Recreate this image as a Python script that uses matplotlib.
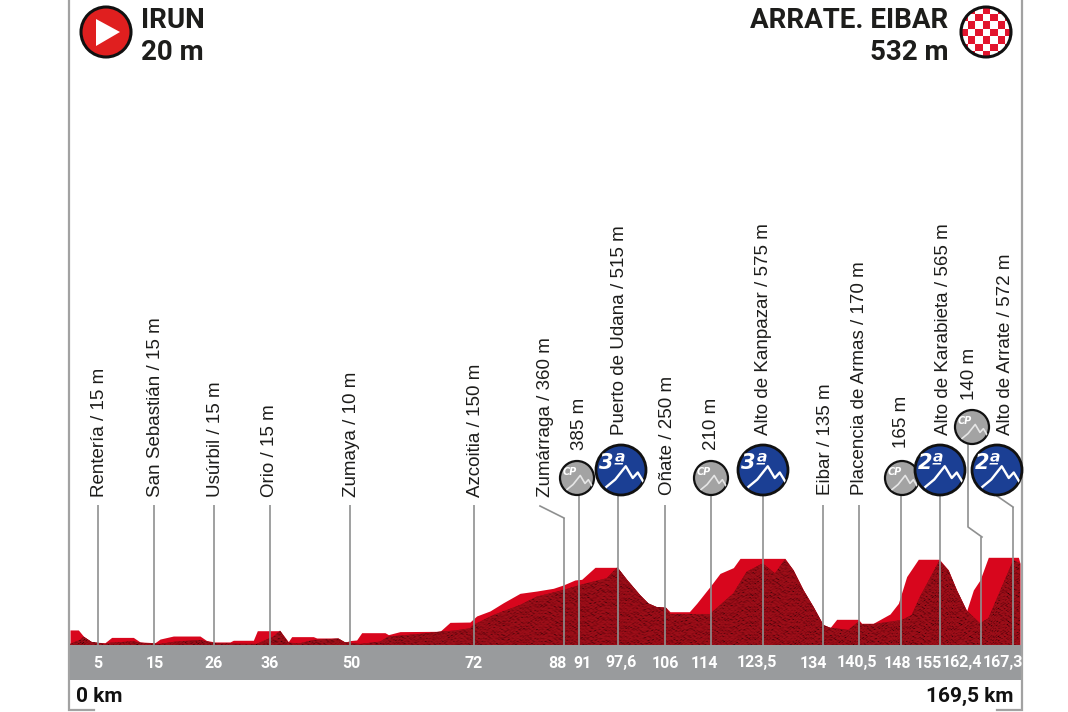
import matplotlib
matplotlib.use('Agg')
import matplotlib.pyplot as plt
import numpy as np
from matplotlib.colors import LinearSegmentedColormap
from matplotlib.patches import Circle, Polygon
from matplotlib.transforms import blended_transform_factory

# bright upper outline of the stage profile
outline_km = [0, 1.49, 2.38, 3.87, 6.24, 7.43, 11.3, 12.49, 15.17, 16.06, 18.44, 23.19, 24.38, 25.87, 28.55, 29.14,
              32.71, 33.42, 37.47, 38.95, 39.55, 43.41, 44.01, 47.87, 49.06, 49.96, 51.14, 52.04, 56.2, 56.8, 58.88,
              66.01, 67.8, 71.36, 72.55, 74.93, 77.31, 80.29, 83.26, 86.23, 88.02, 90.1, 91.29, 93.67, 97.65, 99.32,
              101.7, 103.18, 104.67, 106.33, 107.05, 110.5, 111.81, 114.18, 115.97, 118.35, 119.54, 127.56, 129.05,
              130.84, 132.62, 134.4, 135.6, 136.78, 140.65, 141.24, 143.32, 146.3, 147.79, 149.27, 151.35, 155.1,
              156.71, 158.19, 159.98, 161.17, 162.36, 163.84, 169.2, 169.5]
outline_m = [99, 99, 59, 20, 15, 50, 50, 20, 15, 39, 59, 59, 29, 20, 20, 31,
             31, 94, 94, 22, 55, 55, 46, 46, 18, 29, 33, 81, 81, 68, 88,
             90, 149, 151, 191, 224, 278, 340, 355, 373, 395, 428, 432, 511, 511, 432,
             329, 274, 250, 246, 219, 219, 274, 384, 471, 509, 570, 570, 493,
             362, 252, 132, 114, 169, 169, 143, 143, 204, 274, 450, 564, 564,
             493, 362, 226, 362, 428, 577, 577, 537]

# darker front face, its top edge
face_km = [0, 1.78, 2.38, 3.87, 6.24, 7.14, 11.3, 12.49, 16.06, 18.73, 23.19, 24.38, 25.87, 33.3, 36.28, 37.47, 38.95,
           41.03, 43.41, 47.87, 49.06, 51.74, 55.31, 56.8, 63.63, 66.01, 68.39, 71.36, 71.96, 75.53, 80.29, 83.26,
           88.02, 90.99, 95.75, 97.65, 99.32, 101.7, 103.18, 104.67, 106.33, 107.05, 114.18, 118.35, 120.73, 123.58,
           125.78, 127.56, 129.05, 130.84, 132.62, 134.4, 135.6, 138.86, 140.65, 141.24, 143.32, 148.38, 150.16,
           151.65, 155.1, 156.71, 158.19, 159.98, 162.36, 163.84, 168.3, 169.5]
face_m = [7, 33, 55, 20, 7, 15, 24, 15, 7, 22, 33, 24, 11, 7, 55, 94, 15,
          11, 33, 42, 18, 7, 22, 55, 77, 88, 94, 110, 132, 197, 263, 318,
          362, 395, 439, 511, 432, 329, 274, 250, 246, 204, 204, 340, 482, 537,
          471, 564, 493, 362, 252, 132, 114, 99, 153, 136, 138, 164, 197,
          318, 555, 493, 362, 226, 143, 175, 559, 537]

# km marks on the grey band and where their lines stand
band_labels = ['5', '15', '26', '36', '50', '72', '88', '91', '97,6', '106', '114', '123,5', '134', '140,5', '148',
               '155', '162,4', '167,3']
band_label_x = [98, 155, 214, 270, 351, 474, 557, 583, 621, 665, 704, 757, 813, 857, 897, 928, 962, 1003]
line_km = [5, 15, 25.7, 35.7, 50, 72.1, 88.1, 90.8, 97.7, 106.1, 114.3, 123.6, 134.3, 140.7, 148.2, 155.2, 162.6, 168.3]
line_top = [505, 505, 505, 505, 505, 505, 518, 490, 490, 505, 490, 490, 505, 505, 490, 490, 537, 507]

places = ['Rentería / 15 m', 'San Sebastián / 15 m', 'Usúrbil / 15 m', 'Orio / 15 m', 'Zumaya / 10 m',
          'Azcoitia / 150 m', 'Zumárraga / 360 m', '385 m', 'Puerto de Udana / 515 m', 'Oñate / 250 m', '210 m',
          'Alto de Kanpazar / 575 m', 'Eibar / 135 m', 'Placencia de Armas / 170 m', '165 m',
          'Alto de Karabieta / 565 m', '140 m', 'Alto de Arrate / 572 m']
place_x = [99, 155, 215, 270, 351, 475, 545, 579, 620, 667, 711, 764, 825, 860, 902, 943, 970, 1006]
place_bottom = [497, 497, 497, 497, 497, 497, 497, 450, 435, 495, 450, 435, 495, 495, 448, 435, 400, 435]

sprints = [(577, 478), (711, 478), (902, 478), (972, 427)]
climbs = [(621, 470, '3ª'), (763, 470, '3ª'), (940, 470, '2ª'), (997, 470, '2ª')]
peak_x = [-.58, -.23, .19, .47, .67, .92]
peak_y = [.67, .38, -.15, .32, .10, .51]

grey = '#8f9090'

fig = plt.figure(figsize=(10.68, 7.12), dpi=100)

# km / metres axes, base of the profile sits at pixel y=645
ax = fig.add_axes([0, 0, 1, 1])
ax.set_xlim(-70 / 5.605, (1068 - 70) / 5.605)
ax.set_ylim(-67 / 0.152, 645 / 0.152)
ax.axis('off')

ax.fill_between(outline_km, 0, outline_m, color='#d8061d', lw=0, zorder=2)
face = Polygon(list(zip(face_km, face_m)) + [(169.5, 0), (0, 0)], closed=True, fc='#8e0a14', ec='none', zorder=3)
ax.add_patch(face)

# mottled rock texture, no data in it
xx, yy = np.meshgrid(np.linspace(0, 1, 950), np.linspace(0, 1, 90))
tex = np.sin(xx * 900 + 5 * np.sin(yy * 60) + 3 * np.sin(xx * 130)) * np.sin(yy * 420 + 6 * np.sin(xx * 210))
tex += 0.7 * np.sin(xx * 1370 + yy * 510) * np.sin(xx * 330 - yy * 730)
rock = LinearSegmentedColormap.from_list('rock', ['#200305', '#6e0710', '#8e0a14', '#9a0e18', '#a00f1a', '#a00f1a'])
im = ax.imshow(tex, extent=(0, 169.5, 0, 590), origin='lower', aspect='auto', cmap=rock, zorder=4,
               interpolation='bilinear')
im.set_clip_path(face)
ax.set_xlim(-70 / 5.605, (1068 - 70) / 5.605)
ax.set_ylim(-67 / 0.152, 645 / 0.152)

# pixel axes for the page furniture
px = fig.add_axes([0, 0, 1, 1])
px.set_xlim(0, 1068)
px.set_ylim(712, 0)
px.axis('off')
px.patch.set_alpha(0)

px.fill_between([70, 1021], 645, 680, color='#999b9d', lw=0)
px.plot([69, 69, 94], [0, 710, 710], color='#a2a2a2', lw=1.6, solid_joinstyle='miter')
px.plot([1022, 1022, 997], [0, 710, 710], color='#a2a2a2', lw=1.6, solid_joinstyle='miter')

mixed = blended_transform_factory(ax.transData, px.transData)
px.vlines(line_km, line_top, 645, color=grey, lw=1.2, transform=mixed, zorder=5)

# the kinked leaders
px.plot([540, 564], [506, 518], color=grey, lw=1.2, zorder=5)
px.plot([968, 968, 982], [443, 527, 537], color=grey, lw=1.2, zorder=5)
px.plot([997, 1013], [496, 507], color=grey, lw=1.2, zorder=5)

for label, x in zip(band_labels, band_label_x):
    px.text(x, 663, label, color='white', fontsize=11.5, fontweight='bold', family='Roboto',
            ha='center', va='center', zorder=6)

for label, x, y in zip(places, place_x, place_bottom):
    px.text(x, y, label, rotation=90, color='#1d1d1b', fontsize=13.5, family=['Liberation Sans', 'DejaVu Sans'],
            ha='center', va='bottom', zorder=6)

for x, y in sprints:
    disc = Circle((x, y), 17, fc='#a3a3a3', ec='#111111', lw=1.6, zorder=7)
    px.add_patch(disc)
    ridge, = px.plot(x + 17 * np.array(peak_x), y + 17 * np.array(peak_y), color='#e6e6e6', lw=1.2, zorder=8)
    ridge.set_clip_path(disc)
    px.text(x - 7, y - 6, 'CP', color='white', fontsize=7, fontstyle='italic', fontweight='bold',
            ha='center', va='center', zorder=8)

for x, y, cat in climbs:
    disc = Circle((x, y), 25, fc='#1b3f94', ec='#111111', lw=2, zorder=7)
    px.add_patch(disc)
    ridge, = px.plot(x + 25 * np.array(peak_x), y + 25 * np.array(peak_y), color='white', lw=1.7, zorder=8)
    ridge.set_clip_path(disc)
    px.text(x - 9, y - 7, cat, color='white', fontsize=15, fontstyle='italic', fontweight='bold',
            ha='center', va='center', zorder=8)

# start badge
px.add_patch(Circle((106, 32), 25, fc='#e01f1f', ec='#111111', lw=2.2))
px.add_patch(Polygon([(96, 19), (96, 46), (120, 32)], closed=True, fc='white', ec='none'))

# finish badge, red and white squares inside a black ring
ring = Circle((986, 32), 25, fc='white', ec='none')
px.add_patch(ring)
checks = np.indices((7, 7)).sum(axis=0) % 2
board = px.pcolormesh(960 + 7.5 * np.arange(8), 6 + 7.5 * np.arange(8), checks,
                      cmap=LinearSegmentedColormap.from_list('chk', ['white', '#e2142d']), zorder=2)
board.set_clip_path(ring)
px.add_patch(Circle((986, 32), 25, fc='none', ec='#111111', lw=2.2, zorder=3))
px.set_xlim(0, 1068)
px.set_ylim(712, 0)

head = dict(fontsize=20, fontweight='bold', family='Roboto', color='#1d1d1b', va='center')
px.text(141, 20, 'IRUN', ha='left', **head)
px.text(141, 52, '20 m', ha='left', **head)
px.text(948, 20, 'ARRATE. EIBAR', ha='right', **head)
px.text(948, 52, '532 m', ha='right', **head)

foot = dict(fontsize=15, fontweight='bold', family='Roboto', color='#111111', va='center')
px.text(76, 696, '0 km', ha='left', **foot)
px.text(1014, 696, '169,5 km', ha='right', **foot)

fig.savefig('out.png', dpi=100)
